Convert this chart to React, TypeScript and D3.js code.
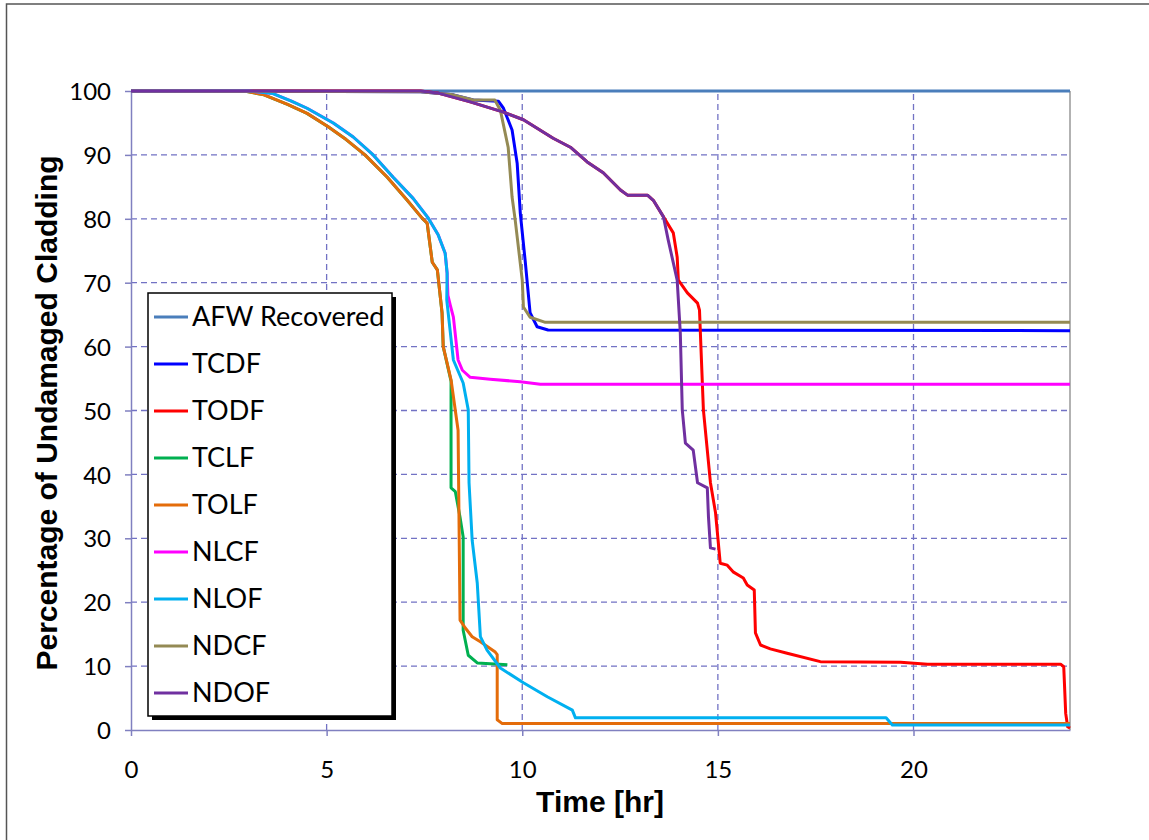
import React, { useRef, useEffect } from "react";
import * as d3 from "d3";

// series data, [time hr, % undamaged]
const afwRecovered = [[0, 100], [24, 100]];

const tcdf = [
  [0, 100], [7.4, 99.9], [8.24, 99.4], [8.75, 98.6], [9.39, 98.4], [9.52, 97.3],
  [9.74, 93.9], [9.87, 88.7], [9.95, 80.9], [10.08, 73.1], [10.2, 65.3],
  [10.38, 63.1], [10.66, 62.6], [24, 62.5],
];

const todf = [
  [0, 100], [7.4, 100], [7.83, 99.7], [8.67, 98.3], [9.52, 96.7], [10.03, 95.5],
  [10.79, 92.6], [11.23, 91.2], [11.66, 88.9], [12.07, 87.2], [12.51, 84.5],
  [12.69, 83.7], [13.2, 83.7], [13.35, 82.9], [13.61, 80.3], [13.86, 77.8],
  [13.96, 74.0], [13.99, 70.4], [14.22, 68.4], [14.48, 66.8], [14.53, 65.7],
  [14.63, 50.1], [14.81, 38.7], [14.94, 34.0], [15.06, 26.1], [15.24, 25.8],
  [15.4, 24.7], [15.65, 23.8], [15.75, 22.7], [15.93, 21.9], [15.96, 15.2],
  [16.09, 13.3], [16.34, 12.7], [16.77, 12.0], [17.62, 10.7], [19.67, 10.6],
  [20.36, 10.3], [23.76, 10.3], [23.84, 9.9], [23.89, 2.6], [23.94, 0.5], [24, 0.3],
];

const tclf = [
  [0, 100], [2.9, 100], [3.4, 99.4], [4.0, 97.9], [4.5, 96.5], [5.04, 94.4],
  [5.5, 92.4], [5.98, 90.0], [6.55, 86.5], [7.06, 82.9], [7.44, 80.1],
  [7.57, 79.3], [7.7, 73.2], [7.83, 72.0], [7.95, 65.3], [7.98, 60.0],
  [8.18, 54.6], [8.18, 37.9], [8.29, 37.3], [8.41, 33.3], [8.49, 30.2],
  [8.49, 15.6], [8.62, 11.7], [8.85, 10.5], [9.62, 10.2],
];

const tolf = [
  [0, 100], [2.9, 100], [3.4, 99.4], [4.0, 97.9], [4.5, 96.5], [5.04, 94.4],
  [5.5, 92.4], [5.98, 90.0], [6.55, 86.5], [7.06, 82.9], [7.44, 80.1],
  [7.57, 79.3], [7.7, 73.2], [7.83, 72.0], [7.95, 65.3], [7.98, 60.0],
  [8.18, 54.8], [8.36, 46.9], [8.41, 17.2], [8.54, 16.0], [8.72, 14.6],
  [8.93, 13.8], [9.31, 12.2], [9.36, 11.8], [9.36, 1.6], [9.49, 1.0], [24, 1.0],
];

const nlcf = [
  [0, 100], [3.0, 100], [3.63, 99.6], [4.1, 98.4], [4.5, 97.3], [5.17, 95.0],
  [5.68, 92.8], [6.19, 90.0], [6.7, 86.5], [7.21, 83.2], [7.6, 80.1],
  [7.85, 77.5], [8.03, 74.6], [8.08, 71.5], [8.1, 68.0], [8.16, 66.5],
  [8.24, 64.6], [8.36, 57.9], [8.47, 56.3], [8.67, 55.2], [9.18, 54.9],
  [9.95, 54.5], [10.46, 54.1], [24, 54.1],
];

const nlof = [
  [0, 100], [3.0, 100], [3.63, 99.6], [4.1, 98.4], [4.5, 97.3], [5.17, 95.0],
  [5.68, 92.8], [6.19, 90.0], [6.7, 86.5], [7.21, 83.2], [7.6, 80.1],
  [7.85, 77.5], [8.03, 74.6], [8.08, 71.5], [8.07, 67.3], [8.24, 57.9],
  [8.49, 54.3], [8.62, 50.1], [8.64, 38.7], [8.72, 29.7], [8.85, 23.0],
  [8.93, 14.6], [9.1, 12.5], [9.44, 9.7], [10.03, 7.4], [10.64, 5.2],
  [11.28, 3.1], [11.36, 1.9], [19.3, 1.9], [19.46, 0.8], [24, 0.8],
];

const ndcf = [
  [0, 100], [7.4, 99.9], [8.24, 99.4], [8.75, 98.6], [9.3, 98.6], [9.44, 97.0],
  [9.64, 91.2], [9.74, 83.4], [9.82, 79.8], [10.0, 70.4], [10.03, 66.2],
  [10.2, 64.6], [10.59, 63.8], [24, 63.8],
];

const ndof = [
  [0, 100], [7.4, 100], [7.83, 99.7], [8.67, 98.3], [9.52, 96.7], [10.03, 95.5],
  [10.79, 92.6], [11.23, 91.2], [11.66, 88.9], [12.07, 87.2], [12.51, 84.5],
  [12.69, 83.7], [13.2, 83.7], [13.35, 82.9], [13.61, 80.3], [13.73, 76.7],
  [13.96, 70.4], [14.04, 62.1], [14.09, 50.1], [14.17, 44.9], [14.37, 43.8],
  [14.48, 38.7], [14.73, 37.9], [14.76, 33.3], [14.81, 28.5], [14.94, 28.3],
];

const seriesNames = ["AFW Recovered", "TCDF", "TODF", "TCLF", "TOLF", "NLCF", "NLOF", "NDCF", "NDOF"];
const seriesData = [afwRecovered, tcdf, todf, tclf, tolf, nlcf, nlof, ndcf, ndof];
const seriesColors = ["#4a7ebb", "#0000ff", "#ff0000", "#00b050", "#e46c0a", "#ff00ff", "#00b0f0", "#948a54", "#7030a0"];

const xTicks = [0, 5, 10, 15, 20];
const yTicks = [0, 10, 20, 30, 40, 50, 60, 70, 80, 90, 100];

const App = () => {
  const svgRef = useRef(null);

  useEffect(() => {
    const width = 1149;
    const height = 840;
    const margin = { top: 91, right: 79, bottom: 110, left: 131 };

    const svg = d3.select(svgRef.current);
    svg.selectAll("*").remove();
    svg.attr("width", width).attr("height", height);

    svg.append("rect").attr("width", width).attr("height", height).attr("fill", "#fff");
    // outer frame (top + left only)
    svg
      .append("path")
      .attr("d", `M6.5,${height} L6.5,4 L${width},4`)
      .attr("fill", "none")
      .attr("stroke", "#555")
      .attr("stroke-width", 1.5);

    const x = d3.scaleLinear().domain([0, 24]).range([margin.left, width - margin.right]);
    const y = d3.scaleLinear().domain([0, 100]).range([height - margin.bottom, margin.top]);

    const gridColor = "#7272c4";
    const tickFont = "Lato, 'Open Sans', sans-serif";

    // grid
    svg
      .append("g")
      .selectAll("line")
      .data(yTicks.filter((d) => d > 0 && d < 100))
      .join("line")
      .attr("x1", x(0))
      .attr("x2", x(24))
      .attr("y1", (d) => y(d))
      .attr("y2", (d) => y(d))
      .attr("stroke", gridColor)
      .attr("stroke-width", 1.3)
      .attr("stroke-dasharray", "6,4");

    svg
      .append("g")
      .selectAll("line")
      .data(xTicks.filter((d) => d > 0))
      .join("line")
      .attr("x1", (d) => x(d))
      .attr("x2", (d) => x(d))
      .attr("y1", y(0))
      .attr("y2", y(100))
      .attr("stroke", gridColor)
      .attr("stroke-width", 1.3)
      .attr("stroke-dasharray", "6,4");

    // plot frame right side
    svg
      .append("line")
      .attr("x1", x(24))
      .attr("x2", x(24))
      .attr("y1", y(0))
      .attr("y2", y(100))
      .attr("stroke", "#999")
      .attr("stroke-width", 1.5);

    // axes
    const xAxis = svg
      .append("g")
      .attr("transform", `translate(0,${y(0)})`)
      .call(d3.axisBottom(x).tickValues(xTicks).tickSize(6).tickSizeOuter(0).tickFormat(d3.format("d")));
    const yAxis = svg
      .append("g")
      .attr("transform", `translate(${x(0)},0)`)
      .call(d3.axisLeft(y).tickValues(yTicks).tickSize(6).tickSizeOuter(0).tickFormat(d3.format("d")));

    [xAxis, yAxis].forEach((ax) => {
      ax.select(".domain").attr("stroke", "#8080c0").attr("stroke-width", 1.5);
      ax.selectAll(".tick line").attr("stroke", "#8080c0").attr("stroke-width", 1.5);
      ax.selectAll("text")
        .attr("fill", "#000")
        .style("font-family", tickFont)
        .style("font-size", "24px");
    });
    xAxis.selectAll("text").attr("y", 0).attr("dy", 0).attr("transform", "translate(0,48)");
    yAxis.selectAll("text").attr("x", -20).attr("dy", "0.36em");

    // series lines
    const line = d3
      .line()
      .x((d) => x(d[0]))
      .y((d) => y(d[1]));

    svg
      .append("g")
      .selectAll("path")
      .data(seriesData)
      .join("path")
      .attr("d", (d) => line(d))
      .attr("fill", "none")
      .attr("stroke", (d, i) => seriesColors[i])
      .attr("stroke-width", 3)
      .attr("stroke-linejoin", "round");

    // axis titles
    svg
      .append("text")
      .attr("x", 600)
      .attr("y", 812)
      .attr("text-anchor", "middle")
      .style("font-family", "'Liberation Sans', Arial, sans-serif")
      .style("font-weight", "bold")
      .style("font-size", "30px")
      .text("Time [hr]");

    svg
      .append("text")
      .attr("transform", "translate(57,413) rotate(-90)")
      .attr("text-anchor", "middle")
      .style("font-family", "'Liberation Sans', Arial, sans-serif")
      .style("font-weight", "bold")
      .style("font-size", "30px")
      .text("Percentage of Undamaged Cladding");

    // legend
    const legend = svg.append("g");
    legend
      .append("rect")
      .attr("x", 152)
      .attr("y", 297)
      .attr("width", 244)
      .attr("height", 423)
      .attr("fill", "#000");
    legend
      .append("rect")
      .attr("x", 148)
      .attr("y", 293)
      .attr("width", 244)
      .attr("height", 423)
      .attr("fill", "#fff")
      .attr("stroke", "#000")
      .attr("stroke-width", 1.5);

    const rows = legend
      .selectAll("g.row")
      .data(seriesNames)
      .join("g")
      .attr("class", "row")
      .attr("transform", (d, i) => `translate(0,${317 + i * 47})`);
    rows
      .append("line")
      .attr("x1", 154)
      .attr("x2", 188)
      .attr("stroke", (d, i) => seriesColors[i])
      .attr("stroke-width", 3);
    rows
      .append("text")
      .attr("x", 192)
      .attr("dy", "0.35em")
      .style("font-family", tickFont)
      .style("font-size", "27px")
      .text((d) => d);
  }, []);

  return (
    <div style={{ position: "absolute", left: 0, top: 0, width: 1149, height: 840 }}>
      <svg ref={svgRef} style={{ display: "block" }} />
    </div>
  );
};

export default App;
